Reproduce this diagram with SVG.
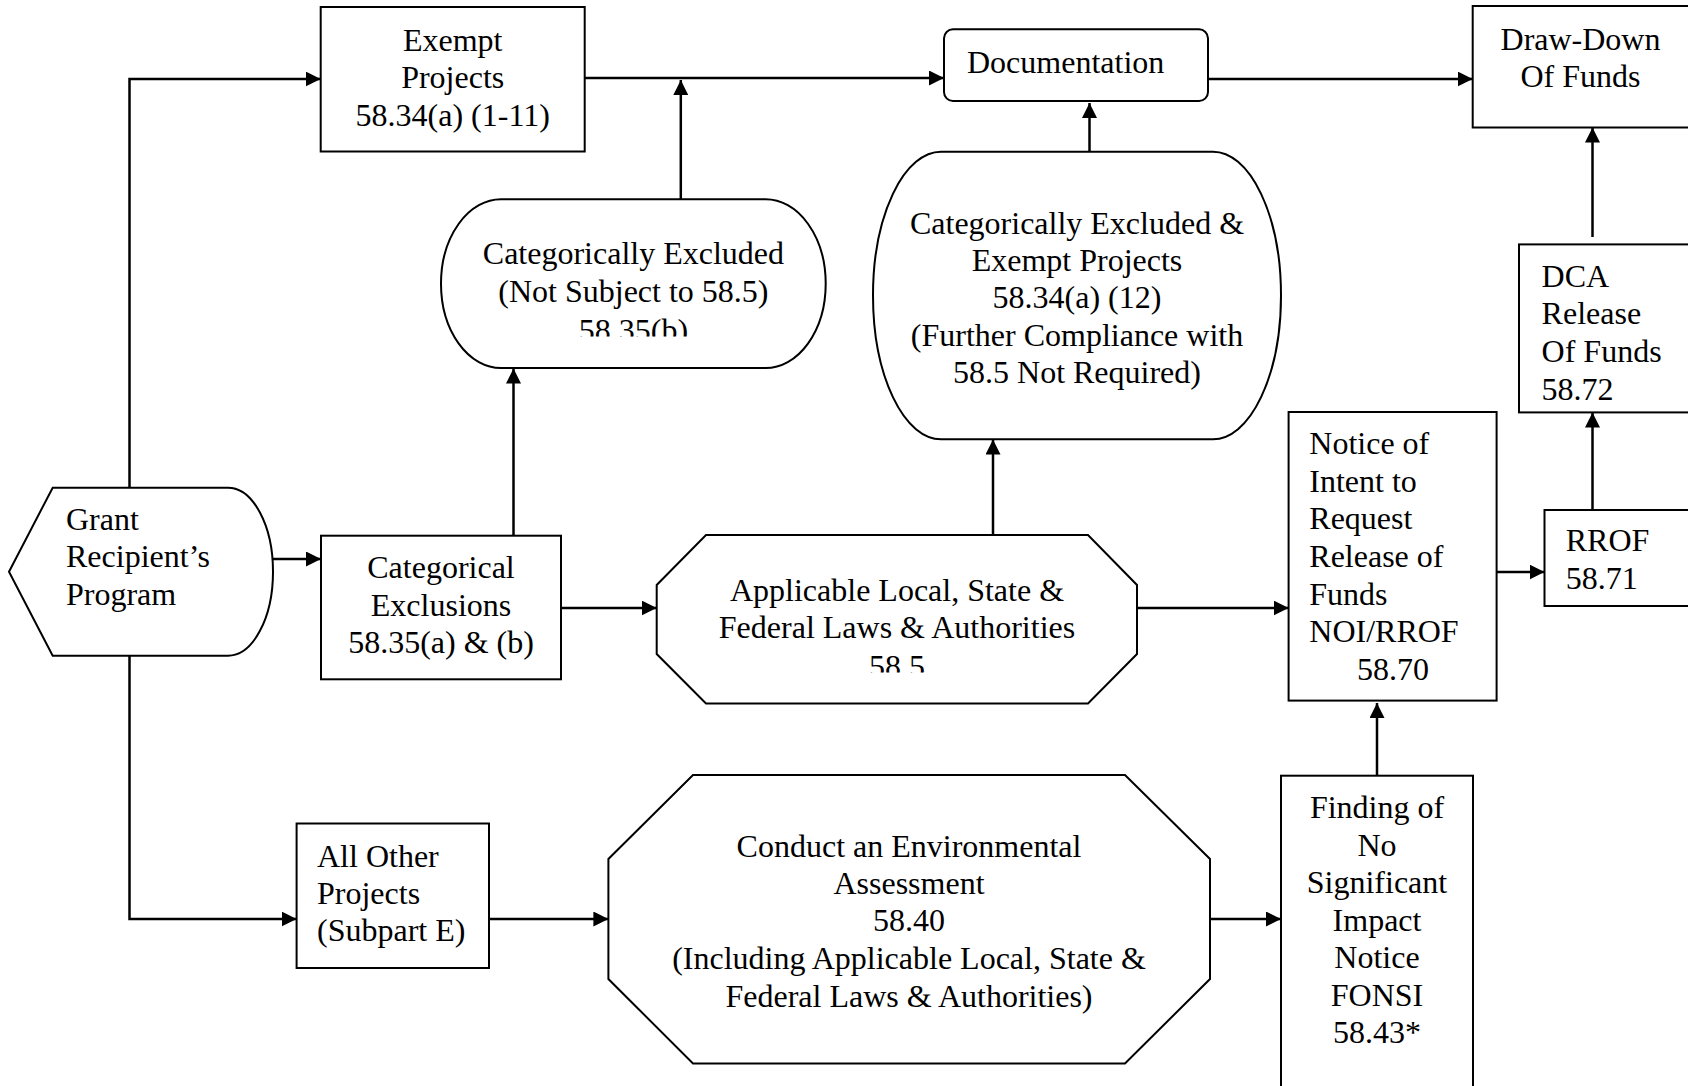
<svg xmlns="http://www.w3.org/2000/svg" width="1688" height="1086" viewBox="0 0 1688 1086">
<defs>
<style>
.box{fill:#fff;stroke:#000;stroke-width:2}
.t{font-family:"Liberation Serif","Times New Roman",serif;font-size:32px;fill:#000}
.m{text-anchor:middle}
.conn{fill:none;stroke:#000;stroke-width:2.5;marker-end:url(#arr)}
</style>
<marker id="arr" markerUnits="userSpaceOnUse" markerWidth="15" markerHeight="15" refX="15" refY="7.5" orient="auto">
<path d="M0,0 L15,7.5 L0,15 Z" fill="#000"/>
</marker>
<clipPath id="clipA"><rect x="0" y="0" width="1688" height="336.5"/></clipPath>
<clipPath id="clipB"><rect x="0" y="0" width="1688" height="672.5"/></clipPath>
</defs>
<rect width="1688" height="1086" fill="#fff"/>

<g id="connectors">
<path class="conn" d="M129.5,488 V79 H320.7"/>
<path class="conn" d="M129.5,656 V919 H296.6"/>
<path class="conn" d="M272,559 H321"/>
<path class="conn" d="M513.5,535.7 V368.5"/>
<path class="conn" d="M680.8,199.3 V80"/>
<path class="conn" d="M584.8,78 H944"/>
<path class="conn" d="M1208,79 H1472.7"/>
<path class="conn" d="M1089.5,151.7 V103"/>
<path class="conn" d="M561,608 H656.7"/>
<path class="conn" d="M993,535 V439.5"/>
<path class="conn" d="M1137,608 H1288.6"/>
<path class="conn" d="M1496.5,572 H1544.5"/>
<path class="conn" d="M1592.5,510 V412.5"/>
<path class="conn" d="M1592.5,237 V127.5"/>
<path class="conn" d="M489,919 H608.4"/>
<path class="conn" d="M1210,919 H1281"/>
<path class="conn" d="M1377,775.7 V703"/>
</g>

<g id="exempt">
<rect class="box" x="320.7" y="7" width="264" height="144.5"/>
<text class="t m" x="452.7" y="50.8">Exempt</text>
<text class="t m" x="452.7" y="88.3">Projects</text>
<text class="t m" x="452.7" y="125.8">58.34(a) (1-11)</text>
</g>

<g id="documentation">
<rect class="box" x="944" y="29.3" width="264" height="71.7" rx="9"/>
<text class="t" x="967" y="72.5">Documentation</text>
</g>

<g id="drawdown">
<rect class="box" x="1472.7" y="6" width="220" height="121.5"/>
<text class="t m" x="1580.5" y="49.5">Draw-Down</text>
<text class="t m" x="1580.5" y="86.5">Of Funds</text>
</g>

<g id="catexcl">
<rect class="box" x="441" y="199.3" width="384.7" height="168.7" rx="60" ry="84.3"/>
<text class="t m" x="633.4" y="263.5">Categorically Excluded</text>
<text class="t m" x="633.4" y="301.5">(Not Subject to 58.5)</text>
<text class="t m" x="633.4" y="340.5" clip-path="url(#clipA)">58.35(b)</text>
</g>

<g id="catexcl-exempt">
<rect class="box" x="873" y="151.7" width="408" height="287.6" rx="68" ry="143.8"/>
<text class="t m" x="1077" y="233.5">Categorically Excluded &amp;</text>
<text class="t m" x="1077" y="270.5">Exempt Projects</text>
<text class="t m" x="1077" y="308">58.34(a) (12)</text>
<text class="t m" x="1077" y="345.5">(Further Compliance with</text>
<text class="t m" x="1077" y="382.5">58.5 Not Required)</text>
</g>

<g id="dca">
<rect class="box" x="1519" y="244.4" width="173" height="168"/>
<text class="t" x="1541.6" y="286.5">DCA</text>
<text class="t" x="1541.6" y="324">Release</text>
<text class="t" x="1541.6" y="361.5">Of Funds</text>
<text class="t" x="1541.6" y="399.5">58.72</text>
</g>

<g id="grant">
<path class="box" d="M9,571.7 L52.7,487.7 L228,487.7 A45,84 0 0 1 228,655.7 L52.7,655.7 Z"/>
<text class="t" x="66" y="530">Grant</text>
<text class="t" x="66" y="567">Recipient’s</text>
<text class="t" x="66" y="604.5">Program</text>
</g>

<g id="catexclusions">
<rect class="box" x="321" y="535.7" width="240" height="143.6"/>
<text class="t m" x="441" y="578.2">Categorical</text>
<text class="t m" x="441" y="615.5">Exclusions</text>
<text class="t m" x="441" y="652.8">58.35(a) &amp; (b)</text>
</g>

<g id="applicable">
<polygon class="box" points="706,535 1088,535 1137,585 1137,654 1088,703.5 706,703.5 656.7,654 656.7,585"/>
<text class="t m" x="897" y="600.5">Applicable Local, State &amp;</text>
<text class="t m" x="897" y="638">Federal Laws &amp; Authorities</text>
<text class="t m" x="897" y="676.5" clip-path="url(#clipB)">58.5</text>
</g>

<g id="notice">
<rect class="box" x="1288.6" y="412" width="208" height="288.6"/>
<text class="t" x="1309.3" y="453.5">Notice of</text>
<text class="t" x="1309.3" y="491.5">Intent to</text>
<text class="t" x="1309.3" y="529">Request</text>
<text class="t" x="1309.3" y="567">Release of</text>
<text class="t" x="1309.3" y="604.5">Funds</text>
<text class="t" x="1309.3" y="642">NOI/RROF</text>
<text class="t" x="1357" y="679.5">58.70</text>
</g>

<g id="rrof">
<rect class="box" x="1544.5" y="510" width="148" height="96"/>
<text class="t" x="1565.7" y="550.5">RROF</text>
<text class="t" x="1565.7" y="588.5">58.71</text>
</g>

<g id="allother">
<rect class="box" x="296.6" y="823.5" width="192.4" height="144.5"/>
<text class="t" x="317" y="866.5">All Other</text>
<text class="t" x="317" y="903.5">Projects</text>
<text class="t" x="317" y="940.8">(Subpart E)</text>
</g>

<g id="conduct">
<polygon class="box" points="693,775 1125,775 1210,859 1210,979 1125,1063.5 693,1063.5 608.4,979 608.4,859"/>
<text class="t m" x="909" y="856.5">Conduct an Environmental</text>
<text class="t m" x="909" y="893.5">Assessment</text>
<text class="t m" x="909" y="931.2">58.40</text>
<text class="t m" x="909" y="968.8">(Including Applicable Local, State &amp;</text>
<text class="t m" x="909" y="1006.5">Federal Laws &amp; Authorities)</text>
</g>

<g id="fonsi">
<rect class="box" x="1281" y="775.7" width="192" height="320"/>
<text class="t m" x="1377" y="818.2">Finding of</text>
<text class="t m" x="1377" y="855.5">No</text>
<text class="t m" x="1377" y="893">Significant</text>
<text class="t m" x="1377" y="930.5">Impact</text>
<text class="t m" x="1377" y="968">Notice</text>
<text class="t m" x="1377" y="1005.5">FONSI</text>
<text class="t m" x="1377" y="1043">58.43*</text>
</g>
</svg>
